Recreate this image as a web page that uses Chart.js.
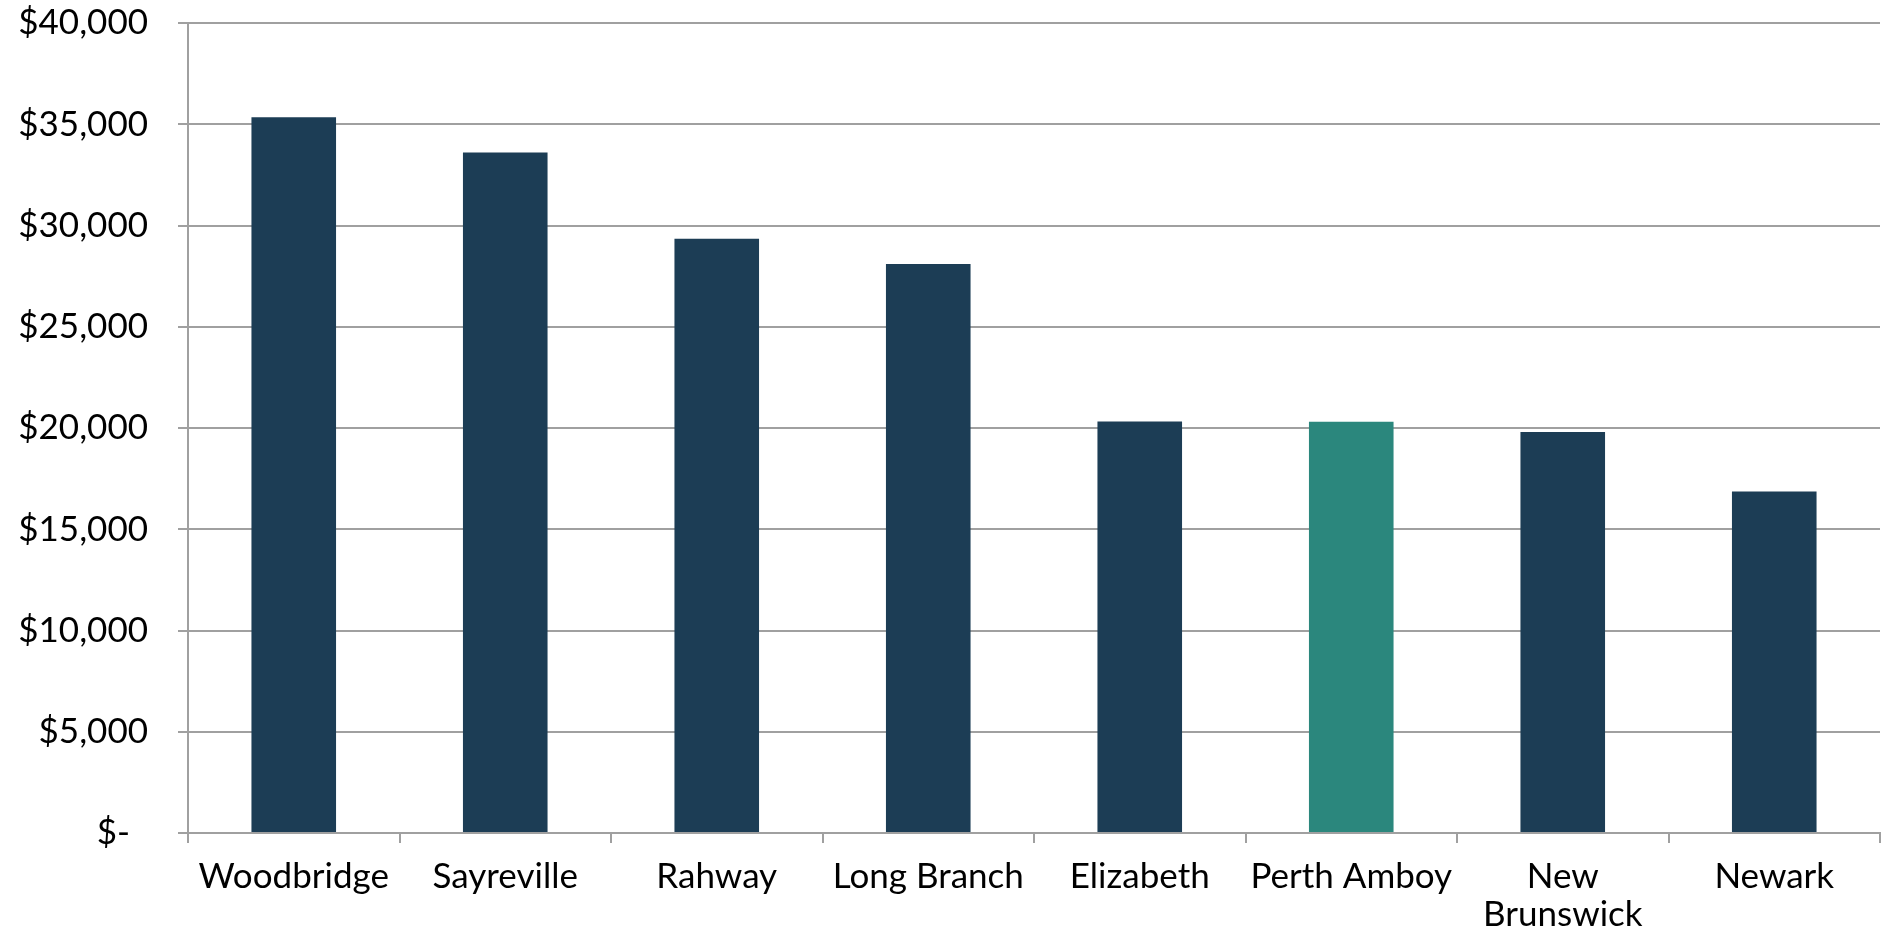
<!DOCTYPE html>
<html>
<head>
<meta charset="utf-8">
<script src="https://cdn.jsdelivr.net/npm/chart.js@4.4.1/dist/chart.umd.min.js"></script>
<style>
  html, body { margin: 0; padding: 0; background: #fff; }
  #wrap { width: 1889px; height: 935px; position: relative; }
</style>
</head>
<body>
<div id="wrap"><canvas id="chart"></canvas></div>
<script>
// Cities and per-capita income
const cities = ['Woodbridge', 'Sayreville', 'Rahway', 'Long Branch', 'Elizabeth', 'Perth Amboy', ['New', 'Brunswick'], 'Newark'];
const incomes = [35350, 33600, 29350, 28100, 20320, 20310, 19800, 16870];
const yTicks = [0, 5000, 10000, 15000, 20000, 25000, 30000, 35000, 40000];

const highlightCity = 'Perth Amboy';
const baseColor = '#1c3d55';
const highlightColor = '#2b877d';
const gridColor = '#a0a0a0';
const fontFamily = 'Lato, "Open Sans", sans-serif';

// accounting-style labels: zero shows as "$-"
function formatDollars(v) {
  if (v === 0) return '$-  ';
  return '$' + v.toLocaleString('en-US');
}

const ctx = document.getElementById('chart').getContext('2d');
new Chart(ctx, {
  type: 'bar',
  data: {
    labels: cities,
    datasets: [{
      data: incomes,
      backgroundColor: cities.map(c => c === highlightCity ? highlightColor : baseColor),
      borderWidth: 0,
      categoryPercentage: 1,
      barPercentage: 0.4
    }]
  },
  options: {
    responsive: true,
    maintainAspectRatio: false,
    animation: false,
    layout: { padding: { top: 23, right: 9, left: 0, bottom: 0 } },
    plugins: { legend: { display: false }, tooltip: { enabled: false } },
    scales: {
      x: {
        grid: {
          offset: true,
          drawOnChartArea: false,
          drawTicks: true,
          tickLength: 10,
          color: gridColor,
          lineWidth: 2
        },
        border: { color: gridColor, width: 2 },
        ticks: {
          color: '#000',
          font: { family: fontFamily, size: 35, lineHeight: 1.1 },
          maxRotation: 0,
          autoSkip: false,
          padding: 14
        },
        afterFit: scale => {
          scale.height = 102;
          scale.paddingLeft = 0;
          scale.paddingRight = 0;
        }
      },
      y: {
        min: 0,
        max: 40000,
        afterBuildTicks: scale => { scale.ticks = yTicks.map(v => ({ value: v })); },
        grid: {
          color: gridColor,
          lineWidth: 2,
          tickLength: 10
        },
        border: { color: gridColor, width: 2 },
        ticks: {
          color: '#000',
          font: { family: fontFamily, size: 35 },
          padding: 30,
          callback: v => formatDollars(v)
        },
        afterFit: scale => {
          scale.width = 188;
          scale.paddingTop = 0;
          scale.paddingBottom = 0;
        }
      }
    }
  }
});
</script>
</body>
</html>
